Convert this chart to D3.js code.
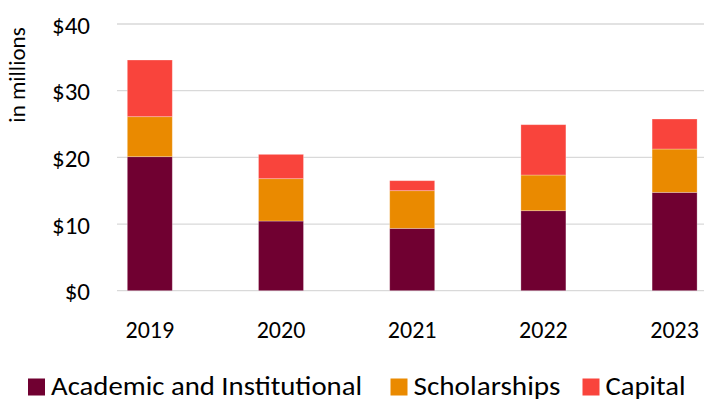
<!DOCTYPE html>
<html>
<head>
<meta charset="utf-8">
<script src="https://cdn.jsdelivr.net/npm/d3@7"></script>
<style>
  body { margin: 0; background: #fff; }
  svg text { font-family: Carlito, Lato, "Open Sans", sans-serif; fill: #000; }
</style>
</head>
<body>
<div id="chart"></div>
<script>
const years = ["2019", "2020", "2021", "2022", "2023"];
const seriesNames = ["Academic and Institutional", "Scholarships", "Capital"];
const academic = [20.1, 10.45, 9.35, 12.0, 14.75];
const scholarships = [6.0, 6.35, 5.65, 5.35, 6.5];
const capital = [8.5, 3.65, 1.5, 7.55, 4.5];
const yTicks = [0, 10, 20, 30, 40];
const colors = ["#700031", "#EA8A00", "#F9443C"];

const width = 704, height = 401;

const svg = d3.select("#chart")
    .append("svg")
    .attr("width", width)
    .attr("height", height);

// table for the stack
const rows = years.map((y, i) => ({
    year: y,
    "Academic and Institutional": academic[i],
    "Scholarships": scholarships[i],
    "Capital": capital[i]
}));
const stacked = d3.stack().keys(seriesNames)(rows);

const x = d3.scaleBand()
    .domain(years)
    .range([84.2, 740.2])
    .paddingInner(0.657)
    .paddingOuter(0.3285);

const y = d3.scaleLinear()
    .domain([0, 40])
    .range([290.7, 24]);

const gridLeft = 117, gridRight = 704;

// gridlines
svg.append("g")
    .selectAll("line")
    .data(yTicks)
    .join("line")
    .attr("x1", gridLeft)
    .attr("x2", gridRight)
    .attr("y1", d => y(d))
    .attr("y2", d => y(d))
    .attr("stroke", "#d9d9d9")
    .attr("stroke-width", 1.3);

// y tick labels
svg.append("g")
    .selectAll("text")
    .data(yTicks)
    .join("text")
    .attr("x", 90)
    .attr("y", d => y(d))
    .attr("dy", "0.39em")
    .attr("text-anchor", "end")
    .attr("font-size", 25)
    .text(d => "$" + d);

// y axis title
svg.append("text")
    .attr("transform", "translate(25,75) rotate(-90)")
    .attr("text-anchor", "middle")
    .attr("font-size", 23)
    .text("in millions");

// bars
svg.append("g")
    .selectAll("g")
    .data(stacked)
    .join("g")
    .attr("fill", (d, i) => colors[i])
    .selectAll("rect")
    .data(d => d)
    .join("rect")
    .attr("x", d => x(d.data.year))
    .attr("width", x.bandwidth())
    .attr("y", d => y(d[1]))
    .attr("height", d => y(d[0]) - y(d[1]))
    .attr("stroke", "#ffffff")
    .attr("stroke-opacity", 0.35)
    .attr("stroke-width", 0.8);

// x labels
svg.append("g")
    .selectAll("text")
    .data(years)
    .join("text")
    .attr("x", d => x(d) + x.bandwidth() / 2)
    .attr("y", 337.5)
    .attr("text-anchor", "middle")
    .attr("font-size", 24)
    .text(d => d);

// legend
const legendX = [28, 390.5, 582.5];
const legendW = [311, 147, 80];
const legend = svg.append("g")
    .selectAll("g")
    .data(seriesNames)
    .join("g")
    .attr("transform", (d, i) => `translate(${legendX[i]},0)`);

legend.append("rect")
    .attr("x", 0)
    .attr("y", 378.5)
    .attr("width", 17)
    .attr("height", 17)
    .attr("fill", (d, i) => colors[i]);

legend.append("text")
    .attr("x", 23)
    .attr("y", 395)
    .attr("font-size", 26)
    .attr("textLength", (d, i) => legendW[i])
    .attr("lengthAdjust", "spacingAndGlyphs")
    .text(d => d);
</script>
</body>
</html>
